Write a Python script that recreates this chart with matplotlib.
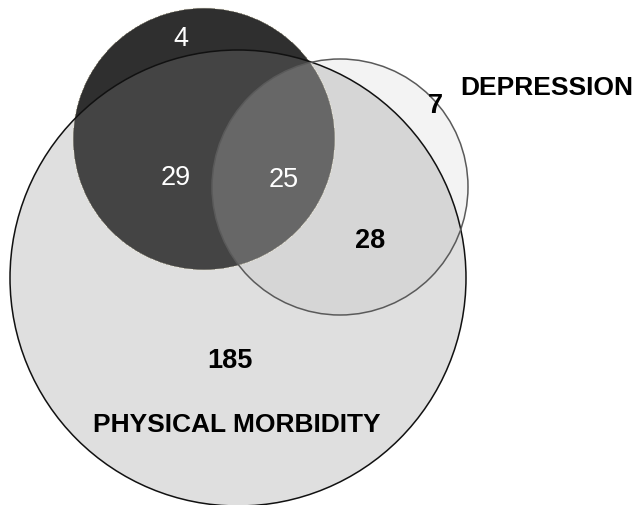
import numpy as np
import matplotlib.pyplot as plt
from matplotlib.patches import Circle

# counts in each region
only_pain = 4          # dark circle only
pain_phys = 29         # dark & physical
all_three = 25         # dark & physical & depression
only_dep = 7
dep_phys = 28
only_phys = 185
set_labels = ['PHYSICAL MORBIDITY', 'DEPRESSION']

W, H = 636, 506
fig = plt.figure(figsize=(W / 100, H / 100), dpi=100)
ax = fig.add_axes([0, 0, 1, 1])
ax.set_xlim(0, W)
ax.set_ylim(H, 0)
ax.axis('off')

# circle layout (pixel units)
big = (238, 279, 228)
dark = (204, 140, 131)
dep = (340, 188, 128)

yy, xx = np.mgrid[0:H, 0:W] + 0.5
def inside(c):
    return (xx - c[0])**2 + (yy - c[1])**2 <= c[2]**2

B, D, P = inside(big), inside(dark), inside(dep)
img = np.full((H, W), 255.0)
img[P & ~B & ~D] = 0xf3
img[B & ~P & ~D] = 0xdf
img[B & P & ~D] = 0xd6
img[D & ~B & ~P] = 0x2f
img[D & B & ~P] = 0x44
img[D & B & P] = 0x67
img[D & P & ~B] = 0x5a
img = img / 255.0
ax.imshow(np.dstack([img, img, img]), extent=(0, W, H, 0), interpolation='bilinear', zorder=1)

ax.add_patch(Circle(dark[:2], dark[2], fill=False, ec='#e8e4d4', lw=0.6, alpha=0.7, zorder=2))
ax.add_patch(Circle(big[:2], big[2], fill=False, ec='#111111', lw=1.1, zorder=3))
ax.add_patch(Circle(dep[:2], dep[2], fill=False, ec='#5a5a5a', lw=1.1, zorder=3))

font = 'Liberation Sans'
fs = 19.5
ax.text(181, 39, str(only_pain), color='white', fontsize=fs, family=font, ha='center', va='center', zorder=5)
ax.text(176, 178, str(pain_phys), color='white', fontsize=fs, family=font, ha='center', va='center', zorder=5)
ax.text(284, 180, str(all_three), color='white', fontsize=fs, family=font, ha='center', va='center', zorder=5)
ax.text(435, 106, str(only_dep), color='black', fontsize=fs, family=font, weight='bold', ha='center', va='center', zorder=5)
ax.text(370, 241, str(dep_phys), color='black', fontsize=fs, family=font, weight='bold', ha='center', va='center', zorder=5)
ax.text(230, 361, str(only_phys), color='black', fontsize=fs, family=font, weight='bold', ha='center', va='center', zorder=5)

ax.text(237, 425, set_labels[0], color='black', fontsize=19, family=font, weight='bold', ha='center', va='center', zorder=5)
ax.text(460, 88, set_labels[1], color='black', fontsize=19, family=font, weight='bold', ha='left', va='center', zorder=5)

fig.savefig('out.png', dpi=100)
